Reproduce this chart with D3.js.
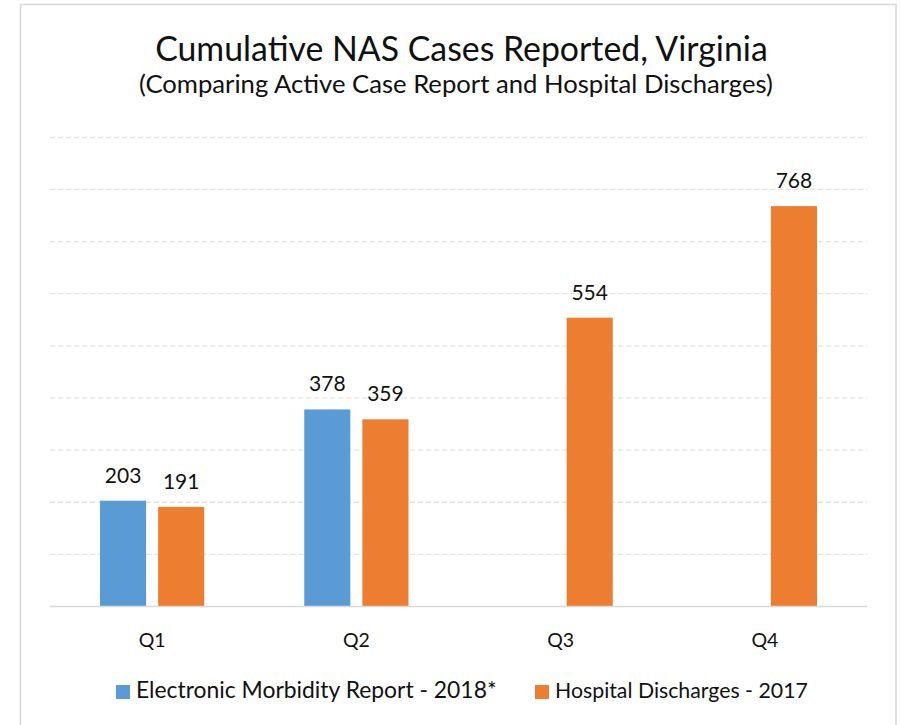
<!DOCTYPE html>
<html><head><meta charset="utf-8">
<script src="https://cdn.jsdelivr.net/npm/d3@7"></script>
<style>body{margin:0;background:#fff}svg{display:block}</style>
</head><body>
<script>
const categories = ["Q1","Q2","Q3","Q4"];
const seriesNames = ["Electronic Morbidity Report - 2018*","Hospital Discharges - 2017"];
const emrValues = [203, 378, null, null];
const hospitalValues = [191, 359, 554, 768];
const yTicks = [0,100,200,300,400,500,600,700,800,900];
const titleText = "Cumulative NAS Cases Reported, Virginia";
const subtitleText = "(Comparing Active Case Report and Hospital Discharges)";
const colors = ["#5b9bd5","#ed7d31"];

const W=900,H=725;
const svg=d3.select("body").append("svg").attr("width",W).attr("height",H);
const font="Lato, 'Open Sans', sans-serif";

svg.append("rect").attr("x",20.5).attr("y",4.5).attr("width",875.5).attr("height",800)
  .attr("fill","none").attr("stroke","#d9d9d9").attr("stroke-width",1.6);

const x0=d3.scaleBand().domain(categories).range([50,867]).paddingInner(0).paddingOuter(0);
const y=d3.scaleLinear().domain([0,900]).range([606.5,137.3]);
const x1=d3.scaleBand().domain([0,1]).range([50,x0.bandwidth()-50]).paddingInner(12/58);

// gridlines
svg.append("g").selectAll("line").data(yTicks.filter(d=>d>0)).join("line")
  .attr("x1",50).attr("x2",867).attr("y1",d=>y(d)).attr("y2",d=>y(d))
  .attr("stroke","#e3e3e3").attr("stroke-width",1.3).attr("stroke-dasharray","5,3");

const data=[];
categories.forEach((c,i)=>{
  [emrValues[i],hospitalValues[i]].forEach((v,s)=>{ if(v!=null) data.push({c,s,v}); });
});

svg.append("g").selectAll("rect").data(data).join("rect")
  .attr("x",d=>x0(d.c)+x1(d.s)).attr("width",x1.bandwidth())
  .attr("y",d=>y(d.v)).attr("height",d=>y(0)-y(d.v))
  .attr("fill",d=>colors[d.s]);

svg.append("g").selectAll("text").data(data).join("text")
  .attr("x",d=>x0(d.c)+x1(d.s)+x1.bandwidth()/2).attr("y",d=>y(d.v)-18)
  .attr("text-anchor","middle").attr("font-family",font).attr("font-size",21)
  .attr("fill","#111").text(d=>d.v);

// axis baseline
svg.append("line").attr("x1",50).attr("x2",867).attr("y1",y(0)).attr("y2",y(0))
  .attr("stroke","#d9d9d9").attr("stroke-width",1.6);

// x labels
const xAxis=d3.axisBottom(x0).tickSize(0).tickPadding(0);
const gx=svg.append("g").attr("transform",`translate(0,${y(0)})`).call(xAxis);
gx.select(".domain").remove();
gx.selectAll("text").attr("font-family",font).attr("font-size",19.5).attr("fill","#111")
  .attr("dy",null).attr("y",40.5);

function fitText(sel,target){
  const n=sel.node(); const fs=parseFloat(sel.attr("font-size"));
  const w=n.getComputedTextLength(); sel.attr("font-size",fs*target/w);
}
const t=svg.append("text").attr("x",461.5).attr("y",60.7).attr("text-anchor","middle")
  .attr("font-family",font).attr("font-size",32).attr("fill","#111").text(titleText);
fitText(t,613);
const st=svg.append("text").attr("x",456).attr("y",93.3).attr("text-anchor","middle")
  .attr("font-family",font).attr("font-size",24).attr("fill","#111").text(subtitleText);
fitText(st,634);

// legend
const legendItems=[{x:116,tx:136,w:361},{x:535,tx:555,w:253}];
legendItems.forEach((L,i)=>{
  svg.append("rect").attr("x",L.x).attr("y",685).attr("width",14).attr("height",14).attr("fill",colors[i]);
  const lt=svg.append("text").attr("x",L.tx).attr("y",697.5).attr("font-family",font)
    .attr("font-size",19).attr("fill","#111").text(seriesNames[i]);
  fitText(lt,L.w);
});
</script>
</body></html>
